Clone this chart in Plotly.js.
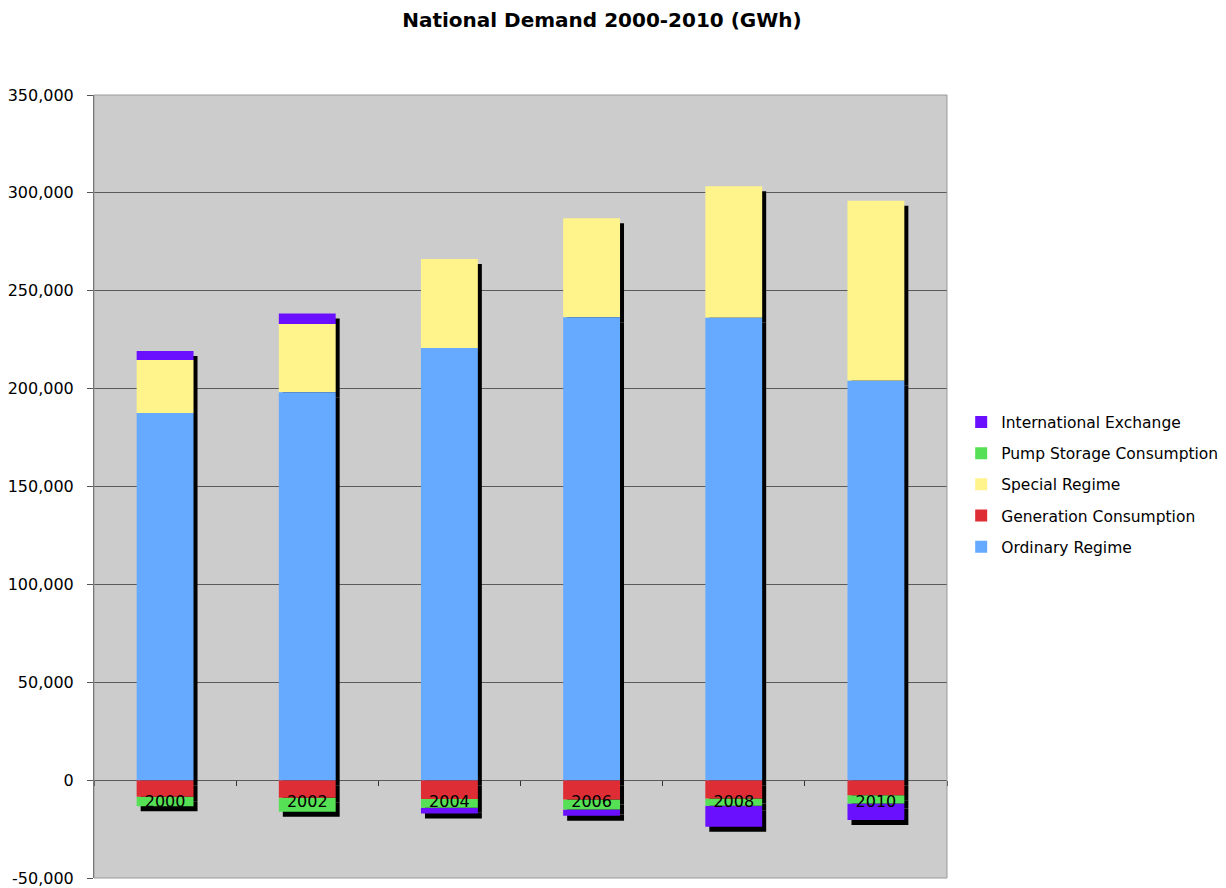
<!DOCTYPE html>
<html>
<head>
<meta charset="utf-8">
<script src="https://cdn.plot.ly/plotly-3.0.1.min.js"></script>
<style>
  html, body { margin: 0; padding: 0; background: #ffffff; }
  #chart { width: 1226px; height: 888px; }
  /* drop shadow cast by the whole stack of columns */
  #chart .barlayer { filter: drop-shadow(4px 5px 0px #000000); }
</style>
</head>
<body>
<div id="chart"></div>
<script>
// National electricity demand, GWh
const years = ['2000', '2002', '2004', '2006', '2008', '2010'];
const ordinaryRegime        = [187500, 198100, 220700, 236500, 236200, 204000];
const specialRegime         = [27100, 34900, 45500, 50600, 67200, 92000];
const generationConsumption = [-8500, -9000, -9700, -9900, -9400, -7700];
const pumpStorage           = [-4800, -7200, -4400, -5100, -3700, -4200];
const internationalExchange = [4600, 5400, -2900, -3200, -10700, -8500];

const yTickVals = [-50000, 0, 50000, 100000, 150000, 200000, 250000, 300000, 350000];
const yTickText = ['-50,000', '0', '50,000', '100,000', '150,000', '200,000', '250,000', '300,000', '350,000'];
const yRange = [-50000, 350000];

const colors = {
  ordinary: '#66AAFF',
  generation: '#DF2D35',
  special: '#FFF38C',
  pump: '#55E055',
  exchange: '#6A10FF'
};

// Stack bases: positives build up from zero, negatives build down from zero
const specialBase = ordinaryRegime.slice();
const posTop = ordinaryRegime.map((v, i) => v + specialRegime[i]);
const pumpBase = generationConsumption.slice();
const negBottom = generationConsumption.map((v, i) => v + pumpStorage[i]);
const exchangeBase = internationalExchange.map((v, i) => v >= 0 ? posTop[i] : negBottom[i]);

const barWidth = 0.4;
const font = 'DejaVu Sans, Verdana, sans-serif';

function seg(name, y, base, color) {
  return {
    type: 'bar', name: name, x: years, y: y, base: base,
    width: barWidth, marker: { color: color, line: { width: 0 } },
    legendgroup: name, hoverinfo: 'skip'
  };
}

// listed in legend order, top to bottom
const data = [
  seg('International Exchange', internationalExchange, exchangeBase, colors.exchange),
  seg('Pump Storage Consumption', pumpStorage, pumpBase, colors.pump),
  seg('Special Regime', specialRegime, specialBase, colors.special),
  seg('Generation Consumption', generationConsumption, years.map(() => 0), colors.generation),
  seg('Ordinary Regime', ordinaryRegime, years.map(() => 0), colors.ordinary)
];

const layout = {
  width: 1226, height: 888,
  margin: { l: 94, r: 279, t: 95, b: 10, pad: 0, autoexpand: false },
  paper_bgcolor: '#ffffff',
  plot_bgcolor: '#CCCCCC',
  barmode: 'overlay',
  font: { family: font, size: 16, color: '#000000' },
  title: {
    text: 'National Demand 2000-2010 (GWh)',
    font: { family: font, size: 20, color: '#000000', weight: 'bold' },
    xref: 'container', x: 0.491, xanchor: 'center',
    yref: 'container', y: 0.977, yanchor: 'middle'
  },
  xaxis: {
    type: 'category',
    anchor: 'free',
    position: (0 - yRange[0]) / (yRange[1] - yRange[0]),
    showline: false, showgrid: false, zeroline: false,
    ticks: 'outside', tickson: 'boundaries', ticklen: 5, tickwidth: 1, tickcolor: '#333333',
    ticklabelstandoff: 10,
    tickfont: { family: font, size: 16, color: '#000000' },
    range: [-0.5, 5.5],
    fixedrange: true
  },
  yaxis: {
    range: yRange,
    domain: [0, 1],
    tickvals: yTickVals, ticktext: yTickText,
    showgrid: true, gridcolor: '#5a5a5a', gridwidth: 1,
    zeroline: true, zerolinecolor: '#5a5a5a', zerolinewidth: 1,
    showline: true, linecolor: '#555555', linewidth: 1,
    ticks: 'outside', ticklen: 6, tickcolor: '#555555',
    ticklabelstandoff: 10,
    tickfont: { family: font, size: 16, color: '#000000' },
    fixedrange: true
  },
  legend: {
    xref: 'container', yref: 'container',
    x: 0.784, xanchor: 'left', y: 0.4544, yanchor: 'middle',
    traceorder: 'grouped', tracegroupgap: 8,
    font: { family: font, size: 15.5, color: '#000000' },
    bgcolor: 'rgba(0,0,0,0)', itemwidth: 30
  },
  shapes: [{
    type: 'rect', xref: 'paper', yref: 'paper', x0: 0, x1: 1, y0: 0, y1: 1,
    line: { color: '#9a9a9a', width: 1 }, layer: 'above'
  }],
  showlegend: true
};

Plotly.newPlot('chart', data, layout, { displayModeBar: false, staticPlot: true });
</script>
</body>
</html>
